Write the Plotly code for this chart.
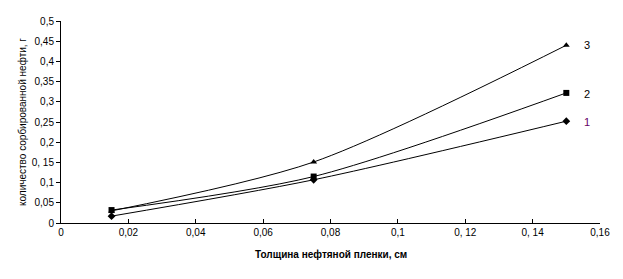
import plotly.graph_objects as go

x_vals = [0.015, 0.075, 0.15]
series1 = [0.017, 0.107, 0.252]
series2 = [0.032, 0.115, 0.322]
series3 = [0.030, 0.151, 0.440]
series_labels = ["1", "2", "3"]

x_ticks = [0, 0.02, 0.04, 0.06, 0.08, 0.1, 0.12, 0.14, 0.16]
x_ticktext = ["0", "0,02", "0,04", "0,06", "0,08", "0,1", "0, 12", "0, 14", "0,16"]
y_ticks = [0, 0.05, 0.1, 0.15, 0.2, 0.25, 0.3, 0.35, 0.4, 0.45, 0.5]
y_ticktext = ["0", "0,05", "0,1", "0, 15", "0,2", "0,25", "0,3", "0,35", "0,4", "0,45", "0,5"]

x_title = "Толщина нефтяной пленки, см"
y_title = "количество сорбированной нефти, г"

# page body adds an 8px offset; figure sized to fit the 623x279 window
W, H = 607, 263
L, R, T, B = 53, 15, 13, 48

fig = go.Figure()
styles = [
    (series1, "diamond", 6),
    (series2, "square", 6),
    (series3, "triangle-up", 6),
]
for ys, sym, sz in styles:
    fig.add_trace(go.Scatter(
        x=x_vals, y=ys, mode="lines+markers",
        line=dict(color="black", width=1, shape="spline", smoothing=0.8),
        marker=dict(symbol=sym, size=sz, color="black"),
        showlegend=False, cliponaxis=False,
    ))

label_colors = ["#660066", "#000000", "#000000"]
for ys, lab, col in zip([series1, series2, series3], series_labels, label_colors):
    fig.add_annotation(
        x=x_vals[-1], y=ys[-1], text=lab, showarrow=False,
        xanchor="left", yanchor="middle", xshift=16, yshift=-1 if lab != "3" else 0,
        font=dict(family="Liberation Sans, Arial", size=11, color=col),
    )

ph = H - T - B
pw = W - L - R
fig.add_annotation(
    xref="paper", yref="paper", x=0.5, y=-(247 - (H - B)) / ph,
    text="<b>" + x_title + "</b>", showarrow=False, xanchor="center", yanchor="middle",
    font=dict(size=10),
)
fig.add_annotation(
    xref="paper", yref="paper", x=-(L - 14) / pw, y=0.5,
    text=y_title, showarrow=False, textangle=-90, xanchor="center", yanchor="middle",
    font=dict(size=10),
)

fig.update_layout(
    width=W, height=H,
    margin=dict(l=L, r=R, t=T, b=B, autoexpand=False),
    paper_bgcolor="white", plot_bgcolor="white",
    font=dict(family="Liberation Sans, Arial", size=10, color="black"),
    xaxis=dict(
        range=[0, 0.16], tickvals=x_ticks, ticktext=x_ticktext, automargin=False,
        showgrid=False, zeroline=False, showline=True, linecolor="black", linewidth=1,
        ticks="inside", ticklen=4, tickcolor="black",
        tickfont=dict(size=10),
    ),
    yaxis=dict(
        range=[0, 0.5], tickvals=y_ticks, ticktext=y_ticktext, automargin=False,
        showgrid=False, zeroline=False, showline=True, linecolor="black", linewidth=1,
        ticks="outside", ticklen=4, tickcolor="black",
        tickfont=dict(size=10),
    ),
)

fig.write_html("out.html")
